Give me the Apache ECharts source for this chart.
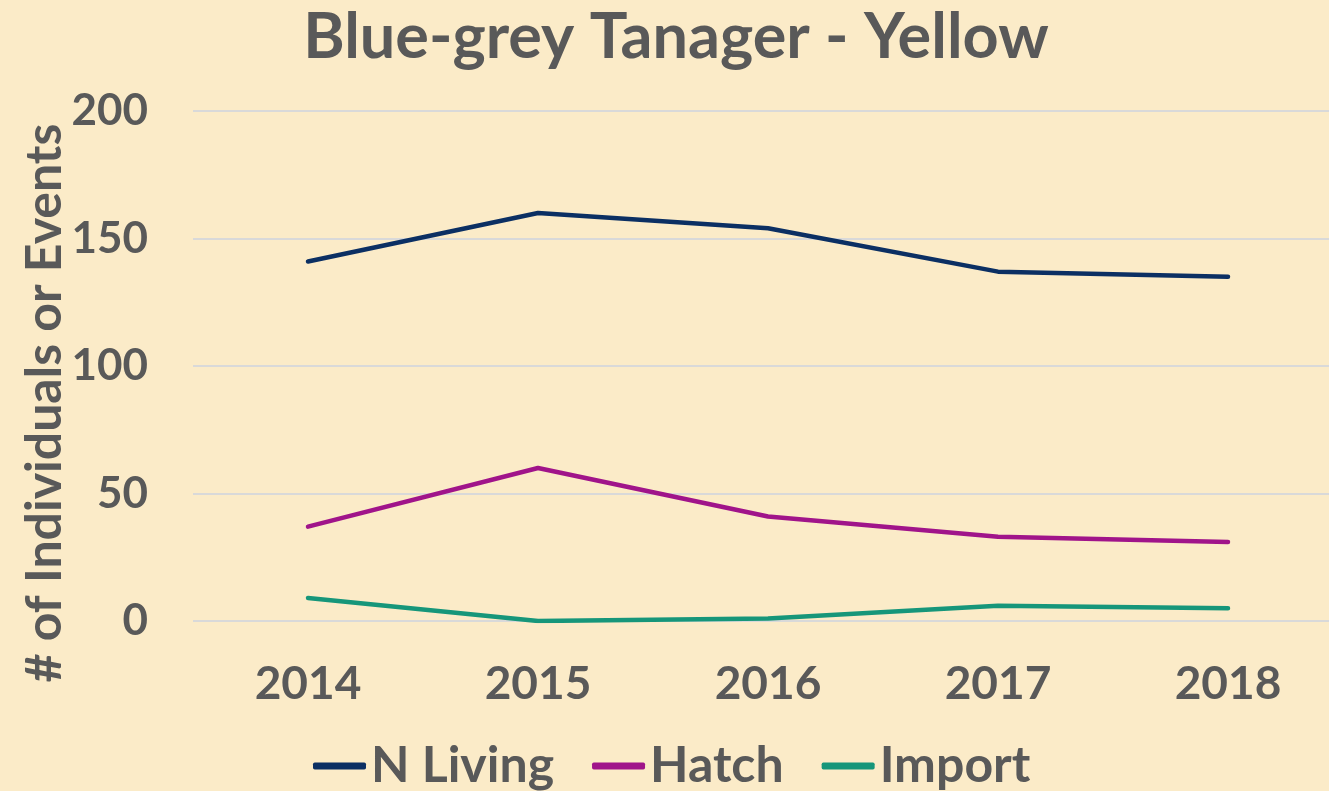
<!DOCTYPE html>
<html>
<head>
<meta charset="utf-8">
<script src="https://cdn.jsdelivr.net/npm/echarts@6/dist/echarts.min.js"></script>
<style>
  html, body { margin: 0; padding: 0; background: #FBEBC8; }
  #chart { width: 1329px; height: 791px; }
</style>
</head>
<body>
<div id="chart"></div>
<script>
// data
const years = ['2014', '2015', '2016', '2017', '2018']
const nLiving = [141, 160, 154, 137, 135]
const hatch = [37, 60, 41, 33, 31]
const importCount = [9, 0, 1, 6, 5]

const textColor = '#595959'
const fontFamily = 'Lato, "Open Sans", sans-serif'

const myChart = echarts.init(document.getElementById('chart'), null, { renderer: 'canvas' })

const lineSeries = (name, data, color) => ({
  name: name,
  type: 'line',
  data: data,
  symbol: 'none',
  lineStyle: { width: 4.5, color: color, cap: 'round', join: 'round' },
  itemStyle: { color: color }
})

const option = {
  backgroundColor: '#FBEBC8',
  animation: false,
  textStyle: { fontFamily: fontFamily },
  title: {
    text: 'Blue-grey Tanager - Yellow',
    left: 671,
    top: 1,
    textAlign: 'center',
    textStyle: {
      fontFamily: fontFamily,
      fontWeight: 'bold',
      fontSize: 63,
      color: textColor
    }
  },
  legend: {
    left: 308,
    top: 736,
    icon: 'roundRect',
    itemWidth: 53,
    itemHeight: 7,
    itemGap: 38,
    textStyle: {
      fontFamily: fontFamily,
      fontWeight: 'bold',
      fontSize: 50,
      color: textColor
    },
    data: ['N Living', 'Hatch', 'Import']
  },
  grid: {
    left: 193,
    top: 111,
    width: 1150,
    height: 510,
    outerBoundsMode: 'none',
    containLabel: false
  },
  xAxis: {
    type: 'category',
    data: years,
    boundaryGap: true,
    axisLine: { show: false },
    axisTick: { show: false },
    axisLabel: {
      margin: 40,
      fontFamily: fontFamily,
      fontWeight: 'bold',
      fontSize: 46,
      color: textColor
    }
  },
  yAxis: {
    type: 'value',
    min: 0,
    max: 200,
    interval: 50,
    axisLine: { show: false },
    axisTick: { show: false },
    splitLine: { lineStyle: { color: '#D9D9D9', width: 2 } },
    axisLabel: {
      margin: 45,
      fontFamily: fontFamily,
      fontWeight: 'bold',
      fontSize: 44,
      color: textColor
    }
  },
  graphic: [
    {
      type: 'text',
      x: 45,
      y: 403,
      rotation: Math.PI / 2,
      style: {
        text: '# of Individuals or Events',
        fill: textColor,
        font: 'bold 50px ' + fontFamily,
        align: 'center',
        verticalAlign: 'middle'
      }
    }
  ],
  series: [
    lineSeries('N Living', nLiving, '#0B2F63'),
    lineSeries('Hatch', hatch, '#A0148A'),
    lineSeries('Import', importCount, '#16967A')
  ]
}

myChart.setOption(option)
</script>
</body>
</html>
